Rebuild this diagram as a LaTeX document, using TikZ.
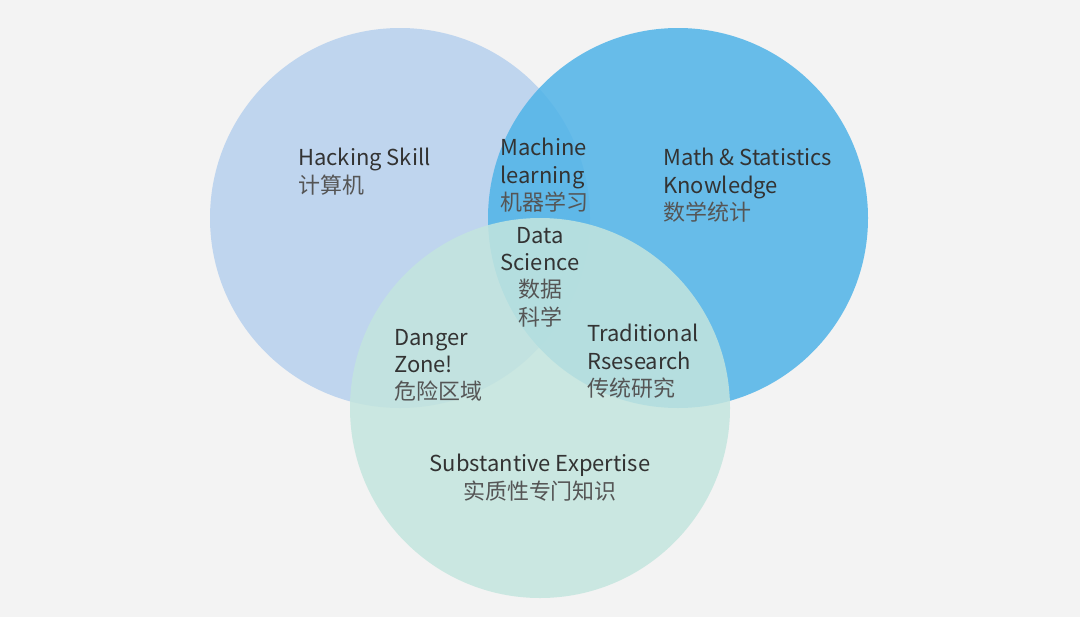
\documentclass[tikz,border=0pt]{standalone}
\usepackage{fontspec}
\setmainfont{Noto Sans CJK SC}
\definecolor{bgGray}{HTML}{F3F3F3}
\definecolor{hackBlue}{HTML}{B6D0EE}
\definecolor{mathBlue}{HTML}{4FB3E8}
\definecolor{subGreen}{HTML}{C3E5DE}
\definecolor{txtDark}{HTML}{333333}
\definecolor{txtGray}{HTML}{555555}
\tikzset{
  field/.style={fill opacity=0.85,draw=none},
  lbl/.style={align=left,anchor=north west,inner sep=0pt,text=txtDark,
    font=\fontsize{12.5}{15.5}\selectfont},
  clbl/.style={lbl,align=center,anchor=north},
  zh/.style={text=txtGray}
}
\begin{document}
\begin{tikzpicture}
  \fill[bgGray] (0,0) rectangle (21.6,12.34);
  \useasboundingbox (0,0) rectangle (21.6,12.34);

  \fill[field,hackBlue] (8.0,7.98) circle (3.8);
  \fill[field,mathBlue] (13.56,7.98) circle (3.8);
  \fill[field,subGreen] (10.8,4.18) circle (3.8);

  \node[lbl] (hack) at (5.96,9.38) {Hacking Skill\\{\color{txtGray}计算机}};
  \node[lbl] (math) at (13.26,9.38) {Math \& Statistics\\Knowledge\\{\color{txtGray}数学统计}};
  \node[lbl] (ml) at (10.0,9.58) {Machine\\learning\\{\color{txtGray}机器学习}};
  \node[clbl] (ds) at (10.8,7.8) {Data\\Science\\{\color{txtGray}数据}\\{\color{txtGray}科学}};
  \node[lbl] (danger) at (7.88,5.76) {Danger\\Zone!\\{\color{txtGray}危险区域}};
  \node[lbl] (trad) at (11.74,5.86) {Traditional\\Rsesearch\\{\color{txtGray}传统研究}};
  \node[clbl] (sub) at (10.8,3.26) {Substantive Expertise\\{\color{txtGray}实质性专门知识}};
\end{tikzpicture}
\end{document}
